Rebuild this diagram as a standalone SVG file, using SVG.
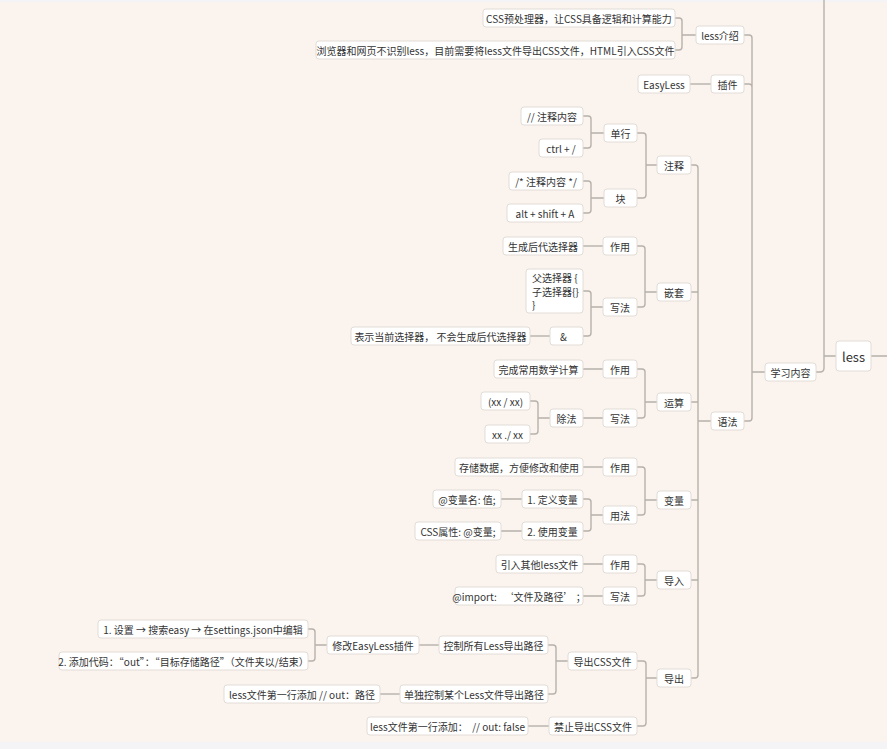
<svg xmlns="http://www.w3.org/2000/svg" width="887" height="749" viewBox="0 0 887 749">
<style>
.bg{fill:#faf3ee}
.n rect{fill:#ffffff;stroke:#e2dcd6;stroke-width:1}
.n text{font-family:"Noto Sans CJK SC","Noto Sans",sans-serif;font-size:10px;fill:#333333;text-anchor:middle;dominant-baseline:central;white-space:pre}
.n text.l{text-anchor:start}
.root text{font-size:13px}
.c path{fill:none;stroke:#b7b1ab;stroke-width:1.4}
</style>
<rect x="0" y="0" width="887" height="749" fill="#f4f4f6"/>
<rect class="bg" x="0" y="2" width="887" height="740"/>
<g class="c" id="connectors">
<path d="M836 356 H824 M824 0 V368 Q824 372 820 372 H816 M871 356 H887"/>
<path d="M765 372 H752 V38 Q752 35 749 35 H744 M752 87 Q752 84 749 84 H744 M752 372 V418 Q752 421 749 421 H744"/>
<path d="M696 35 H682 M682 21 V47 M682 21 Q682 18 679 18 H675 M682 47 Q682 50 679 50 H675"/>
<path d="M711 84 H690"/>
<path d="M711 421 H698 M698 168 V675 M698 168 Q698 165 695 165 H691 M698 292 H691 M698 402 H691 M698 500 H691 M698 580 H691 M698 675 Q698 678 695 678 H691"/>
<path d="M657 165 H646 M646 136 V195 M646 136 Q646 133 643 133 H637 M646 195 Q646 198 643 198 H637"/>
<path d="M604 133 H591 M591 119 V145 M591 119 Q591 116 588 116 H583 M591 145 Q591 148 588 148 H583"/>
<path d="M604 198 H591 M591 184 V210 M591 184 Q591 181 588 181 H583 M591 210 Q591 213 588 213 H583"/>
<path d="M657 292 H645 M645 249 V304 M645 249 Q645 246 642 246 H637 M645 304 Q645 307 642 307 H637"/>
<path d="M603 246 H583"/>
<path d="M603 307 H591 M591 294 V333 M591 294 Q591 291 588 291 H583 M591 333 Q591 336 588 336 H583"/>
<path d="M550 336 H530"/>
<path d="M657 402 H645 M645 372 V415 M645 372 Q645 369 642 369 H637 M645 415 Q645 418 642 418 H637"/>
<path d="M603 369 H583 M603 418 H583"/>
<path d="M550 418 H538 M538 404 V431 M538 404 Q538 401 535 401 H530 M538 431 Q538 434 535 434 H530"/>
<path d="M657 500 H645 M645 470 V512 M645 470 Q645 467 642 467 H637 M645 512 Q645 515 642 515 H637"/>
<path d="M603 467 H583"/>
<path d="M603 515 H591 M591 502 V528 M591 502 Q591 499 588 499 H583 M591 528 Q591 531 588 531 H583"/>
<path d="M522 499 H501 M522 531 H501"/>
<path d="M657 580 H645 M645 567 V593 M645 567 Q645 564 642 564 H637 M645 593 Q645 596 642 596 H637"/>
<path d="M603 564 H583 M603 596 H583"/>
<path d="M657 678 H646 M646 664 V723 M646 664 Q646 661 643 661 H637 M646 723 Q646 726 643 726 H637"/>
<path d="M568 661 H556 M556 648 V691 M556 648 Q556 645 553 645 H548 M556 691 Q556 694 553 694 H548"/>
<path d="M439 645 H419"/>
<path d="M327 645 H315 M315 632 V658 M315 632 Q315 629 312 629 H308 M315 658 Q315 661 312 661 H308"/>
<path d="M400 694 H380"/>
<path d="M549 726 H528"/>
</g>
<g class="n root" id="n-less"><rect x="836" y="341" width="35" height="30" rx="3"/><text x="853.5" y="356">less</text></g>
<g class="n" id="n-xuexi"><rect x="765" y="363" width="51" height="18" rx="3"/><text x="790.5" y="372">学习内容</text></g>
<g class="n" id="n-intro"><rect x="696" y="26" width="48" height="18" rx="3"/><text x="720" y="35">less介绍</text></g>
<g class="n" id="n-intro1"><rect x="483" y="9" width="192" height="18" rx="3"/><text x="579" y="18">CSS预处理器，让CSS具备逻辑和计算能力</text></g>
<g class="n" id="n-intro2"><rect x="316" y="41" width="359" height="18" rx="3"/><text x="495.5" y="50">浏览器和网页不识别less，目前需要将less文件导出CSS文件，HTML引入CSS文件</text></g>
<g class="n" id="n-plugin"><rect x="711" y="75" width="33" height="18" rx="3"/><text x="727.5" y="84">插件</text></g>
<g class="n" id="n-easyless"><rect x="638" y="75" width="52" height="18" rx="3"/><text x="664" y="84">EasyLess</text></g>
<g class="n" id="n-yufa"><rect x="711" y="412" width="33" height="18" rx="3"/><text x="727.5" y="421">语法</text></g>
<g class="n" id="n-zhushi"><rect x="657" y="156" width="34" height="18" rx="3"/><text x="674" y="165">注释</text></g>
<g class="n" id="n-danhang"><rect x="604" y="124" width="33" height="18" rx="3"/><text x="620.5" y="133">单行</text></g>
<g class="n" id="n-dh1"><rect x="521" y="107" width="62" height="18" rx="3"/><text x="552" y="116">// 注释内容</text></g>
<g class="n" id="n-dh2"><rect x="539" y="139" width="44" height="18" rx="3"/><text x="561" y="148">ctrl + /</text></g>
<g class="n" id="n-kuai"><rect x="604" y="189" width="33" height="18" rx="3"/><text x="620.5" y="198">块</text></g>
<g class="n" id="n-k1"><rect x="509" y="172" width="74" height="18" rx="3"/><text x="546" y="181">/* 注释内容 */</text></g>
<g class="n" id="n-k2"><rect x="507" y="204" width="76" height="18" rx="3"/><text x="545" y="213">alt + shift + A</text></g>
<g class="n" id="n-qiantao"><rect x="657" y="283" width="34" height="18" rx="3"/><text x="674" y="292">嵌套</text></g>
<g class="n" id="n-qt-zy"><rect x="603" y="237" width="34" height="18" rx="3"/><text x="620" y="246">作用</text></g>
<g class="n" id="n-qt-zy1"><rect x="503" y="237" width="80" height="18" rx="3"/><text x="543" y="246">生成后代选择器</text></g>
<g class="n" id="n-qt-xf"><rect x="603" y="298" width="34" height="18" rx="3"/><text x="620" y="307">写法</text></g>
<g class="n" id="n-qt-xf1"><rect x="526" y="269" width="57" height="44" rx="3"/><text class="l" x="532" y="277.5">父选择器 {</text><text class="l" x="532" y="291">子选择器{}</text><text class="l" x="532" y="304.5">}</text></g>
<g class="n" id="n-amp"><rect x="550" y="327" width="33" height="18" rx="3"/><text x="560" y="336" style="text-anchor:start">&amp;</text></g>
<g class="n" id="n-amp1"><rect x="351" y="327" width="179" height="18" rx="3"/><text x="440.5" y="336">表示当前选择器， 不会生成后代选择器</text></g>
<g class="n" id="n-yunsuan"><rect x="657" y="393" width="34" height="18" rx="3"/><text x="674" y="402">运算</text></g>
<g class="n" id="n-ys-zy"><rect x="603" y="360" width="34" height="18" rx="3"/><text x="620" y="369">作用</text></g>
<g class="n" id="n-ys-zy1"><rect x="494" y="360" width="89" height="18" rx="3"/><text x="538.5" y="369">完成常用数学计算</text></g>
<g class="n" id="n-ys-xf"><rect x="603" y="409" width="34" height="18" rx="3"/><text x="620" y="418">写法</text></g>
<g class="n" id="n-chufa"><rect x="550" y="409" width="33" height="18" rx="3"/><text x="566.5" y="418">除法</text></g>
<g class="n" id="n-cf1"><rect x="481" y="392" width="49" height="18" rx="3"/><text x="505.5" y="401">(xx / xx)</text></g>
<g class="n" id="n-cf2"><rect x="485" y="425" width="45" height="18" rx="3"/><text x="507.5" y="434">xx ./ xx</text></g>
<g class="n" id="n-bianliang"><rect x="657" y="491" width="34" height="18" rx="3"/><text x="674" y="500">变量</text></g>
<g class="n" id="n-bl-zy"><rect x="603" y="458" width="34" height="18" rx="3"/><text x="620" y="467">作用</text></g>
<g class="n" id="n-bl-zy1"><rect x="455" y="458" width="128" height="18" rx="3"/><text x="519" y="467">存储数据，方便修改和使用</text></g>
<g class="n" id="n-bl-yf"><rect x="603" y="506" width="34" height="18" rx="3"/><text x="620" y="515">用法</text></g>
<g class="n" id="n-bl-1"><rect x="522" y="490" width="61" height="18" rx="3"/><text x="552.5" y="499">1. 定义变量</text></g>
<g class="n" id="n-bl-1a"><rect x="433" y="490" width="68" height="18" rx="3"/><text x="467" y="499">@变量名: 值;</text></g>
<g class="n" id="n-bl-2"><rect x="522" y="522" width="61" height="18" rx="3"/><text x="552.5" y="531">2. 使用变量</text></g>
<g class="n" id="n-bl-2a"><rect x="415" y="522" width="86" height="18" rx="3"/><text x="458" y="531">CSS属性: @变量;</text></g>
<g class="n" id="n-daoru"><rect x="657" y="571" width="34" height="18" rx="3"/><text x="674" y="580">导入</text></g>
<g class="n" id="n-dr-zy"><rect x="603" y="555" width="34" height="18" rx="3"/><text x="620" y="564">作用</text></g>
<g class="n" id="n-dr-zy1"><rect x="496" y="555" width="87" height="18" rx="3"/><text x="539.5" y="564">引入其他less文件</text></g>
<g class="n" id="n-dr-xf"><rect x="603" y="587" width="34" height="18" rx="3"/><text x="620" y="596">写法</text></g>
<g class="n" id="n-dr-xf1"><rect x="455" y="587" width="128" height="18" rx="3"/><text x="519" y="596">@import:   ‘文件及路径’ ；</text></g>
<g class="n" id="n-daochu"><rect x="657" y="669" width="34" height="18" rx="3"/><text x="674" y="678">导出</text></g>
<g class="n" id="n-dc-css"><rect x="568" y="652" width="69" height="18" rx="3"/><text x="602.5" y="661">导出CSS文件</text></g>
<g class="n" id="n-dc-all"><rect x="439" y="636" width="109" height="18" rx="3"/><text x="493.5" y="645">控制所有Less导出路径</text></g>
<g class="n" id="n-dc-mod"><rect x="327" y="636" width="92" height="18" rx="3"/><text x="373" y="645">修改EasyLess插件</text></g>
<g class="n" id="n-dc-mod1"><rect x="98" y="620" width="210" height="18" rx="3"/><text x="203" y="629">1. 设置 → 搜索easy → 在settings.json中编辑</text></g>
<g class="n" id="n-dc-mod2"><rect x="59" y="652" width="249" height="18" rx="3"/><text x="183.5" y="661">2. 添加代码：“out”：“目标存储路径”（文件夹以/结束）</text></g>
<g class="n" id="n-dc-one"><rect x="400" y="685" width="148" height="18" rx="3"/><text x="474" y="694">单独控制某个Less文件导出路径</text></g>
<g class="n" id="n-dc-one1"><rect x="224" y="685" width="156" height="18" rx="3"/><text x="302" y="694">less文件第一行添加 // out：路径</text></g>
<g class="n" id="n-dc-no"><rect x="549" y="717" width="88" height="18" rx="3"/><text x="593" y="726">禁止导出CSS文件</text></g>
<g class="n" id="n-dc-no1"><rect x="367" y="717" width="161" height="18" rx="3"/><text x="447.5" y="726">less文件第一行添加：  // out: false</text></g>
</svg>
